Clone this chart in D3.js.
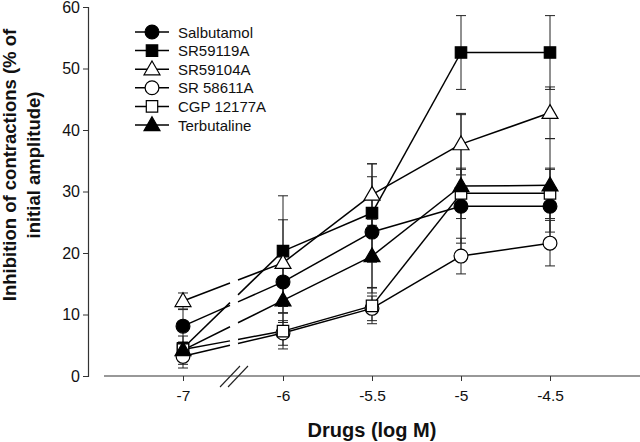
<!DOCTYPE html>
<html><head><meta charset="utf-8">
<script src="https://cdn.jsdelivr.net/npm/d3@7/dist/d3.min.js"></script>
<style>body{margin:0;background:#fff}svg{display:block}text{font-family:Arial,"Liberation Sans",sans-serif}</style>
</head><body><svg id="c" width="640" height="442"></svg>
<script>
const doses = [-7, -6, -5.5, -5, -4.5];
const xTickLabels = ["-7", "-6", "-5.5", "-5", "-4.5"];
const yTicks = [0, 10, 20, 30, 40, 50, 60];
const seriesNames = ["Salbutamol", "SR59119A", "SR59104A", "SR 58611A", "CGP 12177A", "Terbutaline"];
const salbutamol   = [8.1, 15.3, 23.4, 27.6, 27.6];
const salbutamolErr= [2.7, 5.0, 9.0, 6.0, 6.0];
const sr59119a     = [4.5, 20.3, 26.5, 52.6, 52.6];
const sr59119aErr  = [1.0, 9.0, 8.0, 6.0, 6.0];
const sr59104a     = [12.2, 18.4, 29.5, 37.7, 42.8];
const sr59104aErr  = [1.3, 7.0, 5.0, 5.0, 4.2];
const sr58611a     = [3.2, 7.0, 11.0, 19.5, 21.6];
const sr58611aErr  = [1.9, 2.0, 2.0, 2.9, 3.7];
const cgp12177a    = [4.3, 7.3, 11.4, 29.7, 29.7];
const cgp12177aErr = [1.2, 2.9, 2.9, 4.1, 4.1];
const terbutaline  = [4.2, 12.3, 19.5, 30.9, 31.0];
const terbutalineErr=[2.3, 3.6, 6.0, 11.6, 7.6];

const series = [
  {name: seriesNames[0], v: salbutamol, e: salbutamolErr, shape: "circle", fill: "#000"},
  {name: seriesNames[1], v: sr59119a, e: sr59119aErr, shape: "square", fill: "#000"},
  {name: seriesNames[2], v: sr59104a, e: sr59104aErr, shape: "triangle", fill: "#fff"},
  {name: seriesNames[3], v: sr58611a, e: sr58611aErr, shape: "circle", fill: "#fff"},
  {name: seriesNames[4], v: cgp12177a, e: cgp12177aErr, shape: "square", fill: "#fff"},
  {name: seriesNames[5], v: terbutaline, e: terbutalineErr, shape: "triangle", fill: "#000"}
];

const svg = d3.select("#c");
const x = d3.scaleLinear().domain([-7, -6, -4.5]).range([183, 283, 550]);
const y = d3.scaleLinear().domain([0, 60]).range([376, 7]);
const axisX0 = 104, axisX1 = 640, axisY = 376, yAxisX = 88;
const gapL = 230, gapR = 238;
const FONT = "Arial, 'Liberation Sans', sans-serif";

// Y axis
const ya = svg.append("g").attr("transform", `translate(${yAxisX},0)`)
  .call(d3.axisLeft(y).tickValues(yTicks).tickSize(5).tickPadding(3).tickFormat(d3.format("d")));
ya.select(".domain").attr("stroke", "#333").attr("stroke-width", 1.2);
ya.selectAll(".tick line").attr("stroke", "#333");
ya.selectAll(".tick text").attr("font-size", 16).attr("fill", "#111").attr("font-family", FONT);

// X axis
svg.append("line").attr("x1", axisX0).attr("x2", axisX1).attr("y1", axisY).attr("y2", axisY)
  .attr("stroke", "#333").attr("stroke-width", 1.2);
const xa = svg.append("g").attr("transform", `translate(0,${axisY})`)
  .call(d3.axisBottom(x).tickValues(doses).tickSize(5).tickPadding(9).tickFormat((d, i) => xTickLabels[i]));
xa.select(".domain").remove();
xa.selectAll(".tick line").attr("stroke", "#333");
xa.selectAll(".tick text").attr("font-size", 15.5).attr("fill", "#111").attr("font-family", FONT);

// break marks
[0, 8].forEach(o => {
  svg.append("line").attr("x1", 220 + o).attr("y1", 387).attr("x2", 240 + o).attr("y2", 366)
    .attr("stroke", "#222").attr("stroke-width", 1.1);
});

// Axis titles
svg.append("text").attr("x", 372).attr("y", 437).attr("text-anchor", "middle")
  .attr("font-size", 20).attr("font-weight", "bold").attr("fill", "#111").text("Drugs (log M)");
const yt = svg.append("text").attr("transform", "translate(0,165) rotate(-90)").attr("text-anchor", "middle")
  .attr("font-size", 18.5).attr("font-weight", "bold").attr("fill", "#111");
yt.append("tspan").attr("x", 0).attr("y", 16).text("Inhibition of contractions (% of");
yt.append("tspan").attr("x", 0).attr("y", 40).text("initial amplitude)");

const plot = svg.append("g");

// error bars
series.forEach(s => {
  s.v.forEach((v, i) => {
    const cx = x(doses[i]);
    const y1 = y(v + s.e[i]), y2 = y(Math.max(0, v - s.e[i]));
    plot.append("line").attr("x1", cx).attr("x2", cx).attr("y1", y1).attr("y2", y2).attr("stroke", "#222").attr("stroke-width", 1);
    [y1, y2].forEach(yy => plot.append("line").attr("x1", cx - 5).attr("x2", cx + 5).attr("y1", yy).attr("y2", yy).attr("stroke", "#222").attr("stroke-width", 1));
  });
});

// lines
series.forEach(s => {
  const pts = s.v.map((v, i) => [x(doses[i]), y(v)]);
  for (let i = 0; i < pts.length - 1; i++) {
    const [ax, ay] = pts[i], [bx, by] = pts[i + 1];
    if (i === 0) {
      const yl = ay + (by - ay) * (gapL - ax) / (bx - ax);
      const yr = ay + (by - ay) * (gapR - ax) / (bx - ax);
      plot.append("line").attr("x1", ax).attr("y1", ay).attr("x2", gapL).attr("y2", yl).attr("stroke", "#000").attr("stroke-width", 1.5);
      plot.append("line").attr("x1", gapR).attr("y1", yr).attr("x2", bx).attr("y2", by).attr("stroke", "#000").attr("stroke-width", 1.5);
    } else {
      plot.append("line").attr("x1", ax).attr("y1", ay).attr("x2", bx).attr("y2", by).attr("stroke", "#000").attr("stroke-width", 1.5);
    }
  }
});

const sym = {
  circle: d3.symbol().type(d3.symbolCircle).size(150),
  square: d3.symbol().type(d3.symbolSquare).size(130),
  triangle: d3.symbol().type(d3.symbolTriangle).size(110)
};
function marker(g, s, cx, cy) {
  g.append("path").attr("d", sym[s.shape]()).attr("transform", `translate(${cx},${cy + (s.shape === "triangle" ? 1 : 0)})`)
    .attr("fill", s.fill).attr("stroke", "#000").attr("stroke-width", 1.2);
}
series.forEach(s => s.v.forEach((v, i) => marker(plot, s, x(doses[i]), y(v))));

// legend
const lg = svg.append("g");
series.forEach((s, i) => {
  const ly = 32 + i * 18.6;
  lg.append("line").attr("x1", 135).attr("x2", 169).attr("y1", ly).attr("y2", ly).attr("stroke", "#000").attr("stroke-width", 1.5);
  marker(lg, s, 152, ly);
  lg.append("text").attr("x", 178).attr("y", ly + 5.5).attr("font-size", 15).attr("fill", "#111").text(s.name);
});
</script></body></html>
